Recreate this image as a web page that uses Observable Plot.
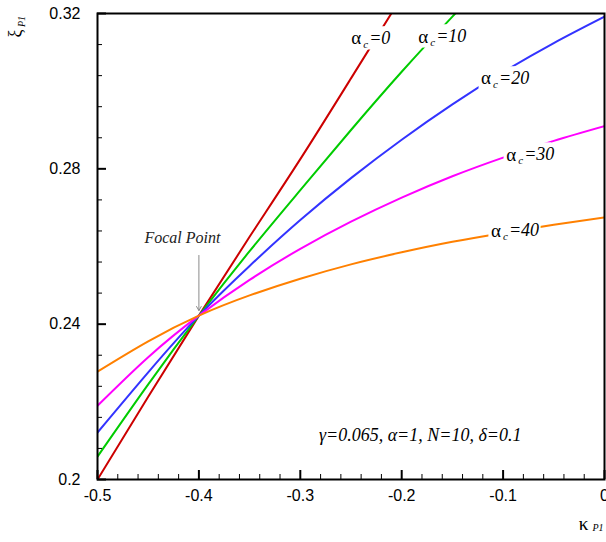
<!DOCTYPE html>
<html>
<head>
<meta charset="utf-8">
<script src="https://cdn.jsdelivr.net/npm/d3@7"></script>
<script src="https://cdn.jsdelivr.net/npm/@observablehq/plot@0.6"></script>
<style>
  html, body { margin: 0; padding: 0; background: white; }
  #chart svg { display: block; }
</style>
</head>
<body>
<div id="chart"></div>
<script>
// ---- data ----
const kappa = [-0.5, -0.45, -0.4, -0.35, -0.3, -0.25, -0.2, -0.15, -0.1, -0.05, 0];
const xiAlpha0  = [0.2000, 0.2213, 0.2422, 0.2625, 0.2825, 0.3033, 0.3243, null, null, null, null];
const xiAlpha10 = [0.2059, 0.2245, 0.2422, 0.2588, 0.2745, 0.2900, 0.3050, 0.3192, 0.3330, null, null];
const xiAlpha20 = [0.2121, 0.2276, 0.2422, 0.2550, 0.2668, 0.2776, 0.2875, 0.2966, 0.3049, 0.3124, 0.3192];
const xiAlpha30 = [0.2190, 0.2315, 0.2422, 0.2514, 0.2594, 0.2664, 0.2726, 0.2781, 0.2829, 0.2872, 0.2910];
const xiAlpha40 = [0.2278, 0.2356, 0.2422, 0.2474, 0.2517, 0.2554, 0.2585, 0.2612, 0.2635, 0.2656, 0.2675];

const alphaC = ["0", "10", "20", "30", "40"];
const seriesColors = ["#cc0000", "#00cc00", "#3333ff", "#ff00ff", "#ff8000"];
const labelKappa = [-0.2498, -0.1837, -0.1217, -0.0970, -0.1120];
const labelXi = [0.3136, 0.3141, 0.3033, 0.2837, 0.2641];

const xMajorTicks = [-0.5, -0.4, -0.3, -0.2, -0.1, 0];
const xMinorTicks = [-0.48, -0.46, -0.44, -0.42, -0.38, -0.36, -0.34, -0.32, -0.28, -0.26, -0.24, -0.22,
                     -0.18, -0.16, -0.14, -0.12, -0.08, -0.06, -0.04, -0.02];
const yMajorTicks = [0.2, 0.24, 0.28, 0.32];
const yMinorTicks = [0.208, 0.216, 0.224, 0.232, 0.248, 0.256, 0.264, 0.272, 0.288, 0.296, 0.304, 0.312];

const focalPoint = [{kappa: -0.4, xiTop: 0.2577, xiTip: 0.2435, textKappa: -0.4163, textXi: 0.2623, text: "Focal Point"}];
const paramNote = [{kappa: -0.1818, xi: 0.2113, text: "γ=0.065, α=1, N=10, δ=0.1"}];

// ---- build tables ----
const allSeries = [xiAlpha0, xiAlpha10, xiAlpha20, xiAlpha30, xiAlpha40];
const rows = [];
allSeries.forEach((arr, i) => {
  arr.forEach((v, j) => rows.push({kappa: kappa[j], xi: v, alpha: alphaC[i]}));
});
const labels = alphaC.map((a, i) => ({kappa: labelKappa[i], xi: labelXi[i], alpha: a}));

const serif = "'Liberation Serif', 'Times New Roman', serif";
const sans = "'Liberation Sans', Arial, sans-serif";
const W = 606, H = 542, mL = 97, mR = 2, mT = 13, mB = 63;
const plotW = W - mL - mR, plotH = H - mT - mB;
// label box size in data units (about 46 x 23 px)
const labelBoxW = 0.045, labelBoxH = 0.003;

const halo = {stroke: "white", strokeWidth: 4, strokeLinejoin: "round", fill: "black"};

const chart = Plot.plot({
  width: W,
  height: H,
  marginLeft: mL,
  marginRight: mR,
  marginTop: mT,
  marginBottom: mB,
  style: {fontFamily: sans, fontSize: "16px", background: "white", color: "black", overflow: "visible"},
  x: {domain: [-0.5, 0], ticks: xMajorTicks, tickSize: 0, tickPadding: 10, tickFormat: d => String(d), label: null},
  y: {domain: [0.2, 0.32], ticks: yMajorTicks, tickSize: 0, tickPadding: 17, tickFormat: d => String(d), label: null},
  color: {domain: alphaC, range: seriesColors},
  marks: [
    Plot.line(rows, {x: "kappa", y: "xi", z: "alpha", stroke: "alpha", strokeWidth: 2, curve: "natural", clip: true}),
    // white gaps in the curves behind the labels
    Plot.rect(labels, {
      x1: d => d.kappa - 0.002, x2: d => d.kappa + (d.alpha.length > 1 ? labelBoxW : labelBoxW - 0.008),
      y1: d => d.xi - labelBoxH, y2: d => d.xi + labelBoxH, fill: "white"}),
    // focal point annotation
    Plot.arrow(focalPoint, {x1: "kappa", y1: "xiTop", x2: "kappa", y2: "xiTip", stroke: "#8a8a8a", strokeWidth: 1, headLength: 7}),
    Plot.text(focalPoint, {x: "textKappa", y: "textXi", text: "text", fontFamily: serif, fontStyle: "italic", fontSize: 16, fill: "#222"}),
    // curve labels
    Plot.text(labels, {x: "kappa", y: "xi", text: d => "α", textAnchor: "start", fontFamily: serif, fontSize: 19, ...halo}),
    Plot.text(labels, {x: "kappa", y: "xi", text: d => "c", dx: 12, dy: 6, textAnchor: "start", fontFamily: serif, fontStyle: "italic", fontSize: 11, ...halo}),
    Plot.text(labels, {x: "kappa", y: "xi", text: d => "=" + d.alpha, dx: 18, textAnchor: "start", fontFamily: serif, fontStyle: "italic", fontSize: 18, ...halo}),
    Plot.text(paramNote, {x: "kappa", y: "xi", text: "text", fontFamily: serif, fontStyle: "italic", fontSize: 18}),
    // inward ticks
    Plot.tickX(xMajorTicks, {x: d => d, insetTop: plotH - 9, stroke: "black", strokeWidth: 2}),
    Plot.tickX(xMinorTicks, {x: d => d, insetTop: plotH - 5, stroke: "black", strokeWidth: 1}),
    Plot.tickY(yMajorTicks, {y: d => d, insetRight: plotW - 9, stroke: "black", strokeWidth: 2}),
    Plot.tickY(yMinorTicks, {y: d => d, insetRight: plotW - 5, stroke: "black", strokeWidth: 1}),
    Plot.frame({stroke: "black", strokeWidth: 2}),
    // axis titles
    Plot.text([0], {x: -0.5, y: 0.32, text: d => "ξ", dx: -82, dy: 20, rotate: -90, fontFamily: serif, fontSize: 18}),
    Plot.text([0], {x: -0.5, y: 0.32, text: d => "P1", dx: -76, dy: 8, rotate: -90, fontFamily: serif, fontStyle: "italic", fontSize: 10}),
    Plot.text([0], {x: 0, y: 0.2, text: d => "κ", dx: -21, dy: 44, fontFamily: serif, fontSize: 19}),
    Plot.text([0], {x: 0, y: 0.2, text: d => "P1", dx: -12, dy: 48, textAnchor: "start", fontFamily: serif, fontStyle: "italic", fontSize: 10})
  ]
});
document.getElementById("chart").appendChild(chart);
</script>
</body>
</html>
